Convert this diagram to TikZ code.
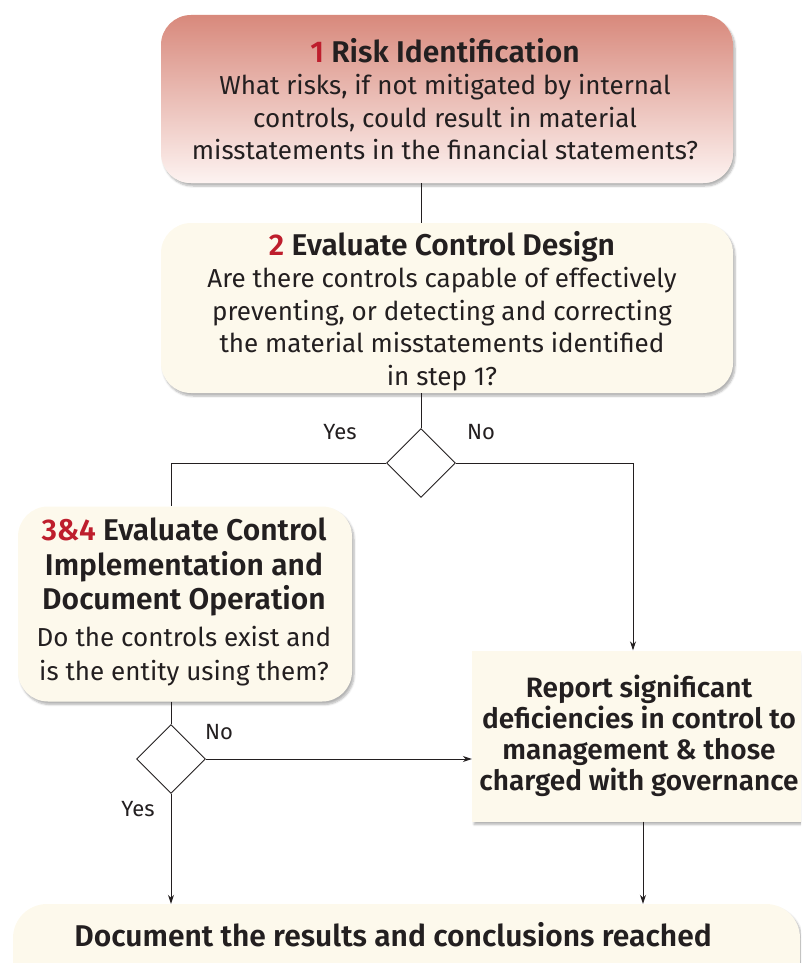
\documentclass[tikz,border=0pt]{standalone}
\usepackage{fontspec}
\setmainfont{Fira Sans}[BoldFont={Fira Sans SemiBold}]
\usetikzlibrary{shapes.geometric,arrows.meta,shadows.blur}
\definecolor{cream}{RGB}{253,249,236}
\definecolor{riskTop}{RGB}{216,137,124}
\definecolor{riskBot}{RGB}{253,243,241}
\definecolor{stepRed}{RGB}{190,30,45}
\definecolor{ink}{RGB}{35,31,32}
\newcommand{\hd}[1]{{\fontsize{30}{32.5}\selectfont\bfseries #1}}
\tikzset{
  x=1pt, y=-1pt,
  txt/.style={font=\fontsize{26}{32.5}\selectfont, text=ink, align=center},
  card/.style={rounded corners=30pt, fill=cream, inner sep=0pt,
    blur shadow={shadow xshift=2pt, shadow yshift=-3pt, shadow blur steps=6, shadow opacity=30}},
  flatcard/.style={fill=cream, inner sep=0pt,
    blur shadow={shadow xshift=2pt, shadow yshift=-3pt, shadow blur steps=6, shadow opacity=30}},
  decision/.style={diamond, draw=ink, line width=0.9pt, fill=white, minimum width=69pt, minimum height=69pt, inner sep=0pt},
  flow/.style={draw=ink, line width=0.9pt},
  flowarrow/.style={flow, -{Stealth[length=9pt, width=6pt]}},
  lbl/.style={font=\fontsize{22}{26}\selectfont, text=ink}
}
\begin{document}
\begin{tikzpicture}
\useasboundingbox (0,0) rectangle (801,963);
\clip (0,0) rectangle (801,963);

% step boxes
\node[card, top color=riskTop, bottom color=riskBot, minimum width=572pt, minimum height=168pt] (b1) at (447,99) {};
\node[txt] (t1) at (445,99) {\hd{\textcolor{stepRed}{1} Risk Identification}\\What risks, if not mitigated by internal\\controls, could result in material\\misstatements in the financial statements?};

\node[card, minimum width=572pt, minimum height=170pt] (b2) at (447,308) {};
\node[txt] (t2) at (442,311) {\hd{\textcolor{stepRed}{2} Evaluate Control Design}\\Are there controls capable of effectively\\preventing, or detecting and correcting\\the material misstatements identified\\in step 1?};

\node[card, minimum width=334pt, minimum height=195pt] (b3) at (185,604) {};
\node[txt, font=\fontsize{26}{34.5}\selectfont] (t3) at (184,602) {\hd{\textcolor{stepRed}{3\&4} Evaluate Control}\\\hd{Implementation and}\\\hd{Document Operation}\\[2pt]Do the controls exist and\\is the entity using them?};

\node[flatcard, minimum width=340pt, minimum height=171pt] (b4) at (642,736) {};
\node[txt, font=\fontsize{28}{31.2}\selectfont\bfseries] (t4) at (639,736) {Report significant\\deficiencies in control to\\management \& those\\charged with governance};

\node[card, rounded corners=34pt, minimum width=787pt, minimum height=90pt] (b5) at (406.5,949) {};
\node[txt, font=\fontsize{30}{32}\selectfont\bfseries] (t5) at (393,935) {Document the results and conclusions reached};

% decisions
\node[decision] (d1) at (421,463) {};
\node[decision] (d2) at (171,759) {};

% branch corners
\coordinate (yesL) at (171,463);
\coordinate (noR) at (633,463);

% connectors
\draw[flow] (b1.south -| d1) -- (b2.north -| d1);
\draw[flow] (b2.south -| d1) -- (d1.north);
\draw[flow] (d1.west) -- (yesL) -- (b3.north -| yesL);
\draw[flowarrow] (d1.east) -- (noR) -- (b4.north -| noR);
\draw[flow] (b3.south -| d2) -- (d2.north);
\draw[flowarrow] (d2.east) -- (b4.west |- d2);
\draw[flowarrow] (d2.south) -- (b5.north -| d2);
\draw[flowarrow] ([xshift=1pt]b4.south) -- ([xshift=1pt]b5.north -| b4.south);

% branch labels
\node[lbl] (y1) at (340,432) {Yes};
\node[lbl] (n1) at (481,432) {No};
\node[lbl] (n2) at (219,732) {No};
\node[lbl] (y2) at (138,809) {Yes};
\end{tikzpicture}
\end{document}
